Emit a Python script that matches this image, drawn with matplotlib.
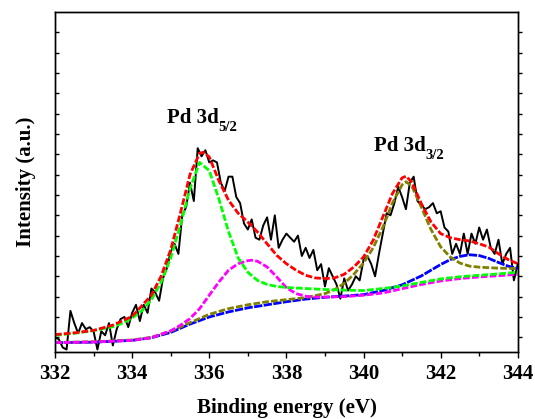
import numpy as np
import matplotlib
matplotlib.use("Agg")
from matplotlib import pyplot as plt
from matplotlib.ticker import MultipleLocator

plt.rcParams['font.family'] = ['Liberation Serif', 'DejaVu Serif']
plt.rcParams['font.weight'] = 'bold'

# raw spectrum, 0.1 eV steps from 332 to 344
energy = np.round(np.arange(332.0, 344.05, 0.1), 1)
counts = [0.0, -0.1, -0.5, -0.6, 1.3, 0.7, 0.2, 0.7, 0.4, 0.5,
          0.3, -0.6, 0.3, 0.1, 0.7, -0.4, 0.4, 0.9, 1.0, 0.5,
          1.2, 1.6, 0.8, 1.6, 1.2, 2.4, 2.2, 1.8, 2.9, 3.4,
          4.2, 4.6, 4.1, 6.0, 6.4, 7.6, 6.7, 9.3, 8.9, 9.2,
          8.6, 8.7, 8.6, 7.6, 7.2, 7.9, 7.9, 6.9, 6.6, 5.6,
          5.3, 5.8, 4.9, 4.8, 5.5, 5.9, 4.8, 6.0, 4.4, 4.8,
          5.1, 4.9, 4.7, 5.0, 4.0, 4.4, 3.9, 4.3, 3.3, 3.6,
          2.5, 3.4, 3.0, 2.6, 1.9, 2.9, 2.3, 2.6, 3.0, 2.8,
          3.8, 4.0, 3.6, 3.0, 4.1, 5.1, 6.1, 6.0, 6.6, 7.4,
          6.9, 6.3, 7.6, 7.9, 6.7, 6.5, 6.3, 6.4, 6.6, 6.1,
          6.2, 5.4, 5.2, 4.1, 4.6, 4.1, 5.1, 4.1, 5.1, 4.6,
          5.4, 4.8, 5.3, 4.4, 4.1, 4.8, 3.6, 4.1, 4.4, 2.8,
          3.6]

# fitted envelope
env_x = [332, 332.5, 333, 333.5, 334, 334.5, 334.75, 335, 335.25, 335.5, 335.75, 335.85,
         336, 336.25, 336.5, 336.75, 337, 337.25, 337.5, 337.75, 338, 338.25, 338.5,
         338.75, 339, 339.25, 339.5, 339.75, 340, 340.25, 340.5, 340.75, 341, 341.1,
         341.25, 341.5, 341.75, 342, 342.25, 342.5, 342.75, 343, 343.25, 343.5, 343.75, 344]
env_y = [0.13, 0.22, 0.34, 0.6, 1.03, 2.07, 3.0, 4.3, 6.1, 8.0, 9.05, 9.1,
         8.87, 7.7, 6.74, 6.1, 5.67, 5.18, 4.6, 4.03, 3.62, 3.3, 3.05,
         2.92, 2.89, 2.92, 3.1, 3.46, 3.95, 4.77, 5.92, 7.07, 7.84, 7.92,
         7.64, 6.57, 5.67, 5.1, 4.9, 4.8, 4.74, 4.6, 4.44, 4.11, 3.82, 3.62]

# Pd 3d5/2 component (green)
p1_x = [332, 332.5, 333, 333.5, 333.75, 334, 334.25, 334.5, 334.75, 335, 335.25, 335.5,
        335.75, 336, 336.25, 336.5, 336.75, 337, 337.25, 337.5, 337.75, 338, 338.5,
        339, 339.5, 340, 340.5, 341, 341.5, 342, 342.5, 343, 343.5, 344]
p1_y = [0.10, 0.2, 0.33, 0.52, 0.7, 0.95, 1.3, 1.85, 2.7, 3.9, 5.5, 7.3,
        8.6, 8.2, 6.8, 5.2, 3.9, 3.2, 2.8, 2.6, 2.5, 2.45, 2.4,
        2.35, 2.32, 2.3, 2.4, 2.52, 2.7, 2.87, 2.98, 3.05, 3.12, 3.2]

# second 3d5/2 component (magenta)
p2_x = [332, 333, 334, 334.5, 335, 335.25, 335.5, 335.75, 336, 336.25, 336.5, 336.75,
        337, 337.1, 337.25, 337.5, 337.75, 338, 338.25, 338.5, 338.75, 339, 339.5,
        340, 340.5, 341, 341.5, 342, 342.5, 343, 343.5, 344]
p2_y = [-0.26, -0.23, -0.15, -0.02, 0.32, 0.59, 0.92, 1.41, 2.07, 2.72, 3.3, 3.62,
        3.77, 3.79, 3.74, 3.46, 2.97, 2.44, 2.15, 2.02, 1.98, 1.98, 2.0,
        2.07, 2.18, 2.39, 2.6, 2.77, 2.89, 2.97, 3.03, 3.1]

# Pd 3d3/2 component (olive)
p3_x = [332, 333, 334, 334.5, 335, 335.5, 336, 336.5, 337, 337.5, 338, 338.5, 339,
        339.25, 339.5, 339.75, 340, 340.25, 340.5, 340.75, 341, 341.1, 341.25, 341.5,
        341.75, 342, 342.25, 342.5, 342.75, 343, 343.5, 344]
p3_y = [-0.25, -0.22, -0.13, 0.0, 0.3, 0.72, 1.13, 1.41, 1.6, 1.75, 1.85, 1.95, 2.15,
        2.35, 2.65, 3.1, 3.65, 4.4, 5.4, 6.6, 7.5, 7.65, 7.45, 6.4,
        5.3, 4.45, 3.95, 3.65, 3.5, 3.45, 3.4, 3.38]

# second 3d3/2 component (blue)
p4_x = [332, 333, 334, 334.5, 335, 335.5, 336, 336.5, 337, 337.5, 338, 338.5, 339,
        339.5, 340, 340.5, 341, 341.5, 342, 342.25, 342.5, 342.75, 343, 343.25,
        343.5, 343.75, 344]
p4_y = [-0.26, -0.24, -0.15, -0.02, 0.24, 0.65, 1.0, 1.25, 1.45, 1.6, 1.75, 1.88, 1.97,
        2.03, 2.1, 2.3, 2.58, 3.02, 3.58, 3.82, 3.98, 4.06, 4.02, 3.88,
        3.68, 3.5, 3.38]

x_ticks = [332, 334, 336, 338, 340, 342, 344]

fig = plt.figure(figsize=(5.35, 4.19), dpi=100)
ax = fig.add_axes([0.1028, 0.16, 0.865, 0.8115])

ax.plot(energy, counts, color='black', lw=1.4, zorder=2)
ax.plot(p4_x, p4_y, color='#0000ff', lw=2.0, dashes=(3, 0.5), zorder=3)
ax.plot(p2_x, p2_y, color='#ff00ff', lw=2.0, dashes=(2.4, 0.8), zorder=4)
ax.plot(p3_x, p3_y, color='#808000', lw=2.0, dashes=(2.4, 0.8), zorder=3)
ax.plot(p1_x, p1_y, color='#00ff00', lw=2.0, dashes=(2.4, 0.8), zorder=4)
ax.plot(env_x, env_y, color='#ff0000', lw=2.0, dashes=(2.4, 0.8), zorder=5)

ax.set_xlim(332, 344)
ax.set_ylim(-0.72, 16.0)
ax.set_xticks(x_ticks)
ax.xaxis.set_minor_locator(MultipleLocator(1))
ax.set_yticks(range(0, 16))
ax.tick_params(axis='x', which='both', direction='out', top=False,
               labelsize=15, pad=5)
ax.tick_params(axis='x', which='major', length=4, width=1)
ax.tick_params(axis='x', which='minor', length=3, width=1)
ax.tick_params(axis='y', direction='in', left=True, right=False,
               labelleft=False, length=3, width=1)
for lab in ax.get_xticklabels():
    lab.set_fontweight('bold')

# right side ticks point outwards
ax2 = ax.twinx()
ax2.set_ylim(ax.get_ylim())
ax2.set_yticks(range(0, 16))
ax2.tick_params(axis='y', direction='out', length=3, width=1, labelright=False)

for a in (ax, ax2):
    for s in a.spines.values():
        s.set_linewidth(1.0)

ax.text(334.9, 10.55, 'Pd 3d', fontsize=15, fontweight='bold')
ax.text(336.24, 10.16, '5/2', fontsize=10.5, fontweight='bold')
ax.text(340.27, 9.18, 'Pd 3d', fontsize=15, fontweight='bold')
ax.text(341.6, 8.75, '3/2', fontsize=10.5, fontweight='bold')

fig.text(287 / 535, (419 - 412.5) / 419, 'Binding energy (eV)', fontsize=15,
         fontweight='bold', ha='center', va='baseline')
fig.text(30.7 / 535, 1 - 182 / 419, 'Intensity (a.u.)', fontsize=15,
         fontweight='bold', ha='center', va='baseline', rotation=90,
         rotation_mode='anchor')

fig.savefig('out.png', dpi=100)
